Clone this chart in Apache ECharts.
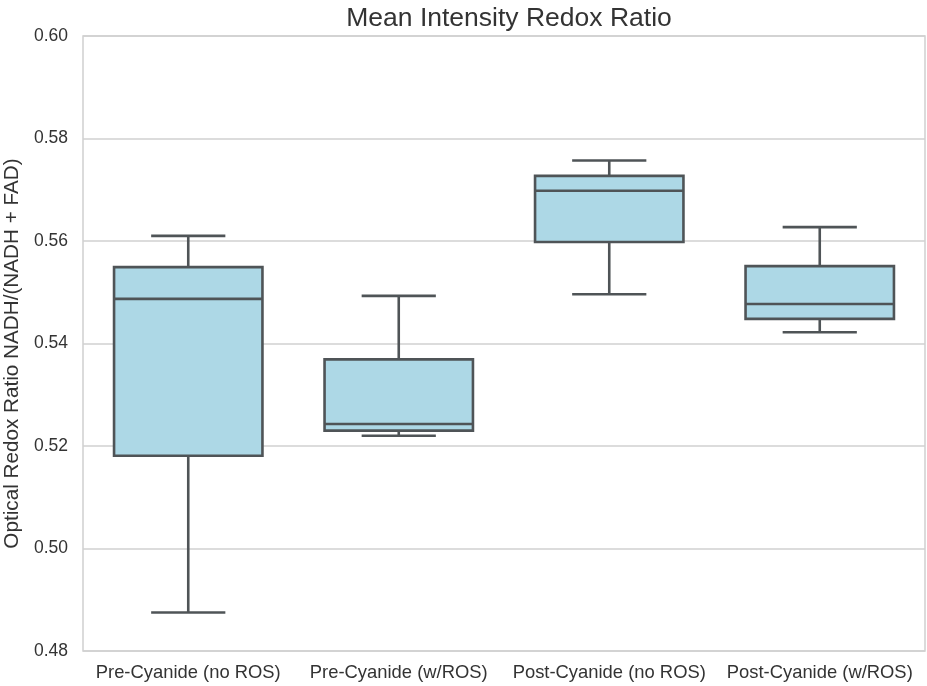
<!DOCTYPE html>
<html>
<head>
<meta charset="utf-8">
<script src="https://cdn.jsdelivr.net/npm/echarts@6/dist/echarts.min.js"></script>
<style>html,body{margin:0;padding:0;background:#fff;}#chart{width:927px;height:686px;}</style>
</head>
<body>
<div id="chart"></div>
<script>
const categories = ['Pre-Cyanide (no ROS)', 'Pre-Cyanide (w/ROS)', 'Post-Cyanide (no ROS)', 'Post-Cyanide (w/ROS)'];
const whiskerLow = [0.4875, 0.5220, 0.5496, 0.5422];
const q1 = [0.5181, 0.5230, 0.5598, 0.5448];
const median = [0.5487, 0.5243, 0.5698, 0.5477];
const q3 = [0.5549, 0.5369, 0.5727, 0.5551];
const whiskerHigh = [0.5610, 0.5493, 0.5757, 0.5627];
const yTicks = [0.48, 0.50, 0.52, 0.54, 0.56, 0.58, 0.60];

const data = categories.map((c, i) => [i, whiskerLow[i], q1[i], median[i], q3[i], whiskerHigh[i]]);
const edge = '#4f5457';
const fill = '#ADD8E6';
const font = 'Liberation Sans, Arial, Helvetica, sans-serif';

const chart = echarts.init(document.getElementById('chart'));
chart.setOption({
  backgroundColor: '#fff',
  animation: false,
  title: {
    text: 'Mean Intensity Redox Ratio',
    left: 504, top: 0, textAlign: 'center',
    textStyle: { fontFamily: font, fontSize: 26.5, fontWeight: 'normal', color: '#333' }
  },
  grid: { left: 83, right: 2, top: 36, bottom: 35, show: true, borderColor: '#d0d0d0', borderWidth: 1.5,
    containLabel: false, outerBoundsMode: 'none' },
  xAxis: {
    type: 'category', data: categories, boundaryGap: true,
    axisLine: { show: false }, axisTick: { show: false },
    axisLabel: { margin: 13, fontFamily: font, fontSize: 18.4, color: '#333', interval: 0 },
    splitLine: { show: false }
  },
  yAxis: {
    type: 'value', min: 0.48, max: 0.60, interval: 0.02,
    name: 'Optical Redox Ratio NADH/(NADH + FAD)', nameLocation: 'middle', nameGap: 50,
    nameTextStyle: { fontFamily: font, fontSize: 20.7, color: '#333', padding: [0, 20, 0, 0] },
    axisLine: { show: false }, axisTick: { show: false },
    axisLabel: { margin: 15, fontFamily: font, fontSize: 17.5, color: '#333',
      formatter: v => { const t = yTicks.find(t => Math.abs(t - v) < 1e-9); return (t !== undefined ? t : v).toFixed(2); } },
    splitLine: { show: true, lineStyle: { color: '#d0d0d0', width: 1.5 } }
  },
  series: [{
    type: 'custom',
    data: data,
    encode: { x: 0, y: [1, 2, 3, 4, 5] },
    renderItem: function (params, api) {
      const x = api.value(0);
      const w = api.size([1, 0])[0] * 0.705;
      const lo = api.coord([x, api.value(1)]);
      const b1 = api.coord([x, api.value(2)]);
      const md = api.coord([x, api.value(3)]);
      const b3 = api.coord([x, api.value(4)]);
      const hi = api.coord([x, api.value(5)]);
      const cx = lo[0];
      const ls = { stroke: edge, lineWidth: 2.6 };
      return {
        type: 'group',
        children: [
          { type: 'line', shape: { x1: cx, y1: lo[1], x2: cx, y2: b1[1] }, style: ls },
          { type: 'line', shape: { x1: cx, y1: b3[1], x2: cx, y2: hi[1] }, style: ls },
          { type: 'line', shape: { x1: cx - w / 4, y1: lo[1], x2: cx + w / 4, y2: lo[1] }, style: ls },
          { type: 'line', shape: { x1: cx - w / 4, y1: hi[1], x2: cx + w / 4, y2: hi[1] }, style: ls },
          { type: 'rect', shape: { x: cx - w / 2, y: b3[1], width: w, height: b1[1] - b3[1] },
            style: { fill: fill, stroke: edge, lineWidth: 2.6 } },
          { type: 'line', shape: { x1: cx - w / 2, y1: md[1], x2: cx + w / 2, y2: md[1] }, style: ls }
        ]
      };
    }
  }]
});
</script>
</body>
</html>
